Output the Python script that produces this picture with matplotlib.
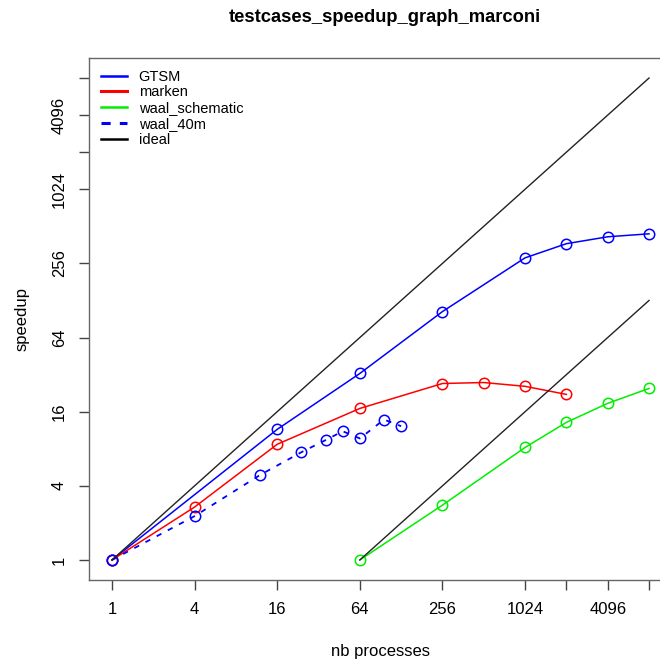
import matplotlib
matplotlib.use("Agg")
from matplotlib import pyplot as plt
from matplotlib.lines import Line2D

plt.rcParams['font.family'] = ['Liberation Sans', 'DejaVu Sans']

# data
gtsm_n = [1, 16, 64, 256, 1024, 2048, 4096, 8192]
gtsm_s = [1, 11.5, 32.7, 104, 284, 370, 421, 445]

marken_n = [1, 4, 16, 64, 256, 512, 1024, 2048]
marken_s = [1, 2.69, 8.7, 17, 27.1, 27.6, 25.7, 22.1]

waal_sch_n = [64, 256, 1024, 2048, 4096, 8192]
waal_sch_s = [1, 2.79, 8.2, 13.1, 18.7, 24.7]

waal_40m_n = [1, 4, 12, 24, 36, 48, 64, 96, 128]
waal_40m_s = [1, 2.27, 4.9, 7.5, 9.4, 11.1, 9.7, 13.8, 12.2]

ideal_n = [1, 8192]
ideal2_n = [64, 8192]

ticks = [1, 4, 16, 64, 256, 1024, 2048, 4096, 8192]
tick_labels = ['1', '4', '16', '64', '256', '1024', '', '4096', '']

fig = plt.figure(figsize=(6.6, 6.6), dpi=100)
ax = fig.add_axes([89/660, 1-580/660, (672-89)/660, (580-58)/660])

mk = dict(marker='o', markersize=7.5, markerfacecolor='none', markeredgewidth=1.1)
ax.plot(gtsm_n, gtsm_s, color='blue', lw=1.1, **mk)
ax.plot(marken_n, marken_s, color='red', lw=1.1, **mk)
ax.plot(waal_sch_n, waal_sch_s, color='#00ee00', lw=1.1, **mk)
ax.plot(waal_40m_n, waal_40m_s, color='blue', lw=1.3, dashes=(3, 4), **mk)
ax.plot(ideal_n, ideal_n, color='#222222', lw=1.0)
ax.plot(ideal2_n, [n / 64 for n in ideal2_n], color='#222222', lw=1.0)

ax.set_xscale('log', base=2)
ax.set_yscale('log', base=2)
ax.set_xlim(2**-0.556, 2**13.556)
ax.set_ylim(2**-0.54, 2**13.54)
ax.set_xticks(ticks)
ax.set_xticklabels(tick_labels)
ax.set_yticks(ticks)
ax.set_yticklabels(tick_labels, rotation=90, va='center')
ax.minorticks_off()
ax.tick_params(length=7, width=1, color='#444444', labelsize=12, pad=9)
for sp in ax.spines.values():
    sp.set_color('#666666')
    sp.set_linewidth(1)

ax.set_xlabel('nb processes', fontsize=12, labelpad=19)
ax.set_ylabel('speedup', fontsize=12, labelpad=16)
fig.text(385/660, 1-18/660, 'testcases_speedup_graph_marconi', ha='center', va='center',
         fontsize=13.2, fontweight='bold')

handles = [Line2D([], [], color='blue', lw=1.8),
           Line2D([], [], color='red', lw=2.2),
           Line2D([], [], color='#00ee00', lw=1.8),
           Line2D([], [], color='blue', lw=2.2, dashes=(3, 3)),
           Line2D([], [], color='black', lw=1.8)]
labels = ['GTSM', 'marken', 'waal_schematic', 'waal_40m', 'ideal']
ax.legend(handles, labels, loc='upper left', frameon=False, fontsize=10.5,
          handlelength=1.8, handletextpad=0.8, labelspacing=0.12,
          borderaxespad=0.3, borderpad=0.5)

fig.savefig('out.png', dpi=100)
